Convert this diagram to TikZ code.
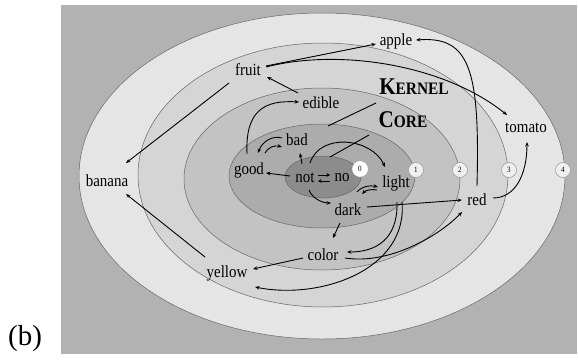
\documentclass[tikz,border=0pt]{standalone}
\usepackage{fontspec}
\setmainfont{Liberation Serif}
\newfontfamily\figfont{Liberation Serif}[FakeStretch=0.88]
\usetikzlibrary{arrows.meta,calc}
\definecolor{bggray}{gray}{0.70}
\definecolor{lvfour}{gray}{0.90}
\definecolor{lvthree}{gray}{0.835}
\definecolor{lvtwo}{gray}{0.765}
\definecolor{lvone}{gray}{0.675}
\definecolor{lvzero}{gray}{0.55}
\definecolor{rimgray}{gray}{0.40}
\begin{document}
\begin{tikzpicture}[x=1pt,y=-1pt,
  lbl/.style={font=\figfont\fontsize{17}{17}\selectfont, inner sep=1pt},
  arr/.style={-{Stealth[length=4.5pt,width=3.6pt]}, line width=0.9pt},
  arrsmall/.style={-{Stealth[length=3.6pt,width=3.6pt]}, line width=1pt},
  lead/.style={line width=0.9pt},
  band/.style={draw=rimgray, line width=0.5pt},
  numc/.style={circle, draw=gray!75, line width=0.6pt, fill=lvfour!60!white, minimum size=15pt, inner sep=0pt, font=\figfont\fontsize{8}{8}\selectfont}]
\useasboundingbox (0,0) rectangle (578,362);
\fill[bggray] (61,5) rectangle (577,354);
% nested levels
\filldraw[band, fill=lvfour] (322,176) ellipse [x radius=243pt, y radius=163pt];
\filldraw[band, fill=lvthree] (323,175) ellipse [x radius=185pt, y radius=132pt];
\filldraw[band, fill=lvtwo] (322,179) ellipse [x radius=138pt, y radius=91pt];
\filldraw[band, fill=lvone] (322,176) ellipse [x radius=93pt, y radius=52pt];
\filldraw[band, fill=lvzero] (323,177) ellipse [x radius=38pt, y radius=21pt];
% level numbers
\node[numc, fill=white, draw=white] (n0) at (360,169) {0};
\node[numc] (n1) at (416,170) {1};
\node[numc] (n2) at (460,170) {2};
\node[numc] (n3) at (509,170) {3};
\node[numc] (n4) at (563,170) {4};
% words
\node[lbl] (apple) at (396,41) {apple};
\node[lbl] (fruit) at (248,70) {fruit};
\node[lbl] (edible) at (321,103) {edible};
\node[lbl] (bad) at (297,140) {bad};
\node[lbl] (good) at (249,170) {good};
\node[lbl] (not) at (305,178) {not};
\node[lbl] (no) at (342,178) {no};
\node[lbl] (light) at (396,183) {light};
\node[lbl] (dark) at (348,210) {dark};
\node[lbl] (color) at (323,255) {color};
\node[lbl] (yellow) at (227,273) {yellow};
\node[lbl] (banana) at (107,181) {banana};
\node[lbl] (red) at (477,200) {red};
\node[lbl] (tomato) at (526,128) {tomato};
\node[inner sep=0pt, font=\figfont\bfseries] (kernel) at (414,87) {{\fontsize{24}{24}\selectfont K}{\fontsize{17.5}{17.5}\selectfont ERNEL}};
\node[inner sep=0pt, font=\figfont\bfseries] (core) at (403,120) {{\fontsize{24}{24}\selectfont C}{\fontsize{17.5}{17.5}\selectfont ORE}};
\node[font=\fontsize{29}{29}\selectfont, inner sep=0pt] (tag) at (25,339) {(b)};
% leaders
\coordinate (kend) at (328,126);
\coordinate (cend) at (330,157);
\draw[lead] ($(kernel)+(-38,16)$) -- (kend);
\draw[lead] ($(core)+(-34,15)$) -- (cend);
% connectors
\draw[arr] ($(fruit)+(18,-4)$) -- ($(apple)+(-20,3)$);
\draw[arr] ($(fruit)+(18,-3)$) .. controls (340,48) and (445,65) .. ($(tomato)+(-19,-13)$);
\draw[arr] ($(red)+(0,-14)$) .. controls (480,70) and (470,36) .. ($(apple)+(20,-1)$);
\draw[arr] ($(red)+(16,-2)$) .. controls (515,198) and (527,175) .. ($(tomato)+(1,14)$);
\draw[arr] ($(fruit)+(-19,13)$) -- ($(banana)+(19,-18)$);
\draw[arr] ($(yellow)+(-22,-16)$) -- ($(banana)+(19,13)$);
\draw[arr] ($(edible)+(-23,-10)$) -- ($(fruit)+(19,7)$);
\draw[arr] ($(good)+(-2,-16)$) .. controls (245,110) and (265,100) .. ($(edible)+(-22,-1)$);
\draw[arr] ($(bad)+(-15,-2)$) .. controls (272,135) and (262,142) .. ($(good)+(9,-17)$);
\draw[arr] ($(good)+(16,-17)$) .. controls (268,147) and (275,145) .. ($(bad)+(-15,7)$);
\draw[arr] ($(not)+(-3,-14)$) -- ($(bad)+(3,13)$);
\draw[arr] ($(not)+(-15,-2)$) -- ($(good)+(17,3)$);
\draw[arrsmall] ($(not)+(13,-3)$) -- ($(no)+(-12,-3)$);
\draw[arrsmall] ($(no)+(-12,3)$) -- ($(not)+(13,3)$);
\draw[arr] ($(not)+(5,-15)$) .. controls (320,132) and (372,138) .. ($(light)+(-11,-16)$);
\draw[arr] ($(not)+(4,12)$) .. controls (312,198) and (322,203) .. ($(dark)+(-17,-7)$);
\draw[arr] ($(dark)+(9,-18)$) .. controls (362,186) and (370,185) .. ($(light)+(-18,4)$);
\draw[arr] ($(light)+(-19,7)$) .. controls (372,189) and (366,190) .. ($(dark)+(14,-16)$);
\draw[arr] ($(dark)+(19,-3)$) -- ($(red)+(-15,0)$);
\draw[arr] ($(dark)+(-8,13)$) -- ($(color)+(10,-17)$);
\draw[arr] ($(light)+(1,19)$) .. controls (398,230) and (385,252) .. ($(color)+(24,-3)$);
\draw[arr] ($(light)+(6,19)$) .. controls (408,270) and (320,300) .. ($(yellow)+(28,14)$);
\draw[arr] ($(color)+(22,3)$) .. controls (390,265) and (440,235) .. ($(red)+(-15,12)$);
\draw[arr] ($(color)+(-20,3)$) -- ($(yellow)+(26,-4)$);
\end{tikzpicture}
\end{document}
